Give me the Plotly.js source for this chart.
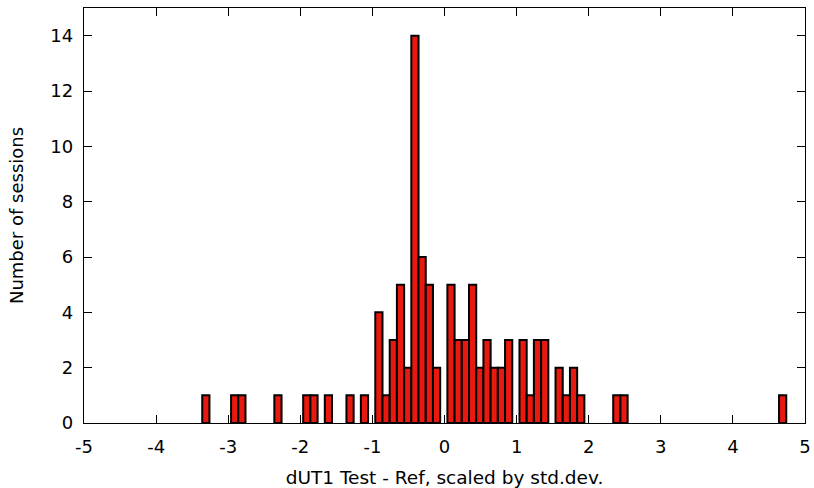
<!DOCTYPE html>
<html>
<head>
<meta charset="utf-8">
<script src="https://cdn.plot.ly/plotly-3.0.1.min.js"></script>
<style>html,body{margin:0;padding:0;background:#fff;}#chart{width:814px;height:488px;}</style>
</head>
<body>
<div id="chart"></div>
<script>
const binCenters = [-3.31, -2.91, -2.81, -2.31, -1.91, -1.81, -1.61, -1.31, -1.11,
  -0.91, -0.81, -0.71, -0.61, -0.51, -0.41, -0.31, -0.21, -0.11,
  0.09, 0.19, 0.29, 0.39, 0.49, 0.59, 0.69, 0.79, 0.89,
  1.09, 1.19, 1.29, 1.39, 1.59, 1.69, 1.79, 1.89, 2.39, 2.49, 4.69];
const sessionCounts = [1, 1, 1, 1, 1, 1, 1, 1, 1,
  4, 1, 3, 5, 2, 14, 6, 5, 2,
  5, 3, 3, 5, 2, 3, 2, 2, 3,
  3, 1, 3, 3, 2, 1, 2, 1, 1, 1, 1];
const xTicks = [-5, -4, -3, -2, -1, 0, 1, 2, 3, 4, 5];
const yTicks = [0, 2, 4, 6, 8, 10, 12, 14];
const xTitle = 'dUT1 Test - Ref, scaled by std.dev.';
const yTitle = 'Number of sessions';

const fontFam = 'DejaVu Sans, sans-serif';
const trace = {
  type: 'bar',
  x: binCenters,
  y: sessionCounts,
  width: 0.1,
  marker: {color: '#e8190e', line: {color: '#000000', width: 2}},
  hoverinfo: 'x+y'
};
const axisCommon = {
  showline: true, linecolor: '#000', linewidth: 1.3,
  mirror: 'ticks', ticks: 'inside', ticklen: 8, tickwidth: 1, tickcolor: '#000',
  showgrid: false, zeroline: false,
  tickfont: {family: fontFam, size: 18, color: '#000'}
};
const layout = {
  width: 814, height: 488,
  margin: {l: 84, r: 9, t: 8, b: 65},
  paper_bgcolor: '#fff', plot_bgcolor: '#fff',
  showlegend: false,
  bargap: 0,
  xaxis: Object.assign({}, axisCommon, {
    range: [-5, 5], tickvals: xTicks, ticktext: xTicks.map(String),
    ticklabelstandoff: 7,
    title: {text: xTitle, font: {family: fontFam, size: 18.5, color: '#000'}, standoff: 16}
  }),
  yaxis: Object.assign({}, axisCommon, {
    range: [0, 15], tickvals: yTicks, ticktext: yTicks.map(String),
    ticklabelstandoff: 6,
    title: {text: yTitle, font: {family: fontFam, size: 18, color: '#000'}, standoff: 22}
  })
};
Plotly.newPlot('chart', [trace], layout, {displayModeBar: false, staticPlot: true});
</script>
</body>
</html>
